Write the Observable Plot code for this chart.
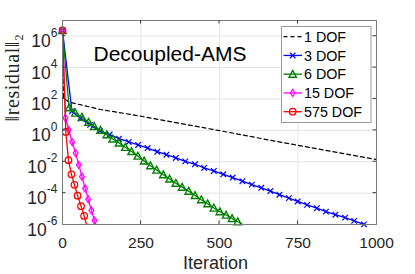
<!DOCTYPE html>
<html><head><meta charset="utf-8">
<script src="https://cdn.jsdelivr.net/npm/d3@7"></script>
<script src="https://cdn.jsdelivr.net/npm/@observablehq/plot@0.6"></script>
<style>
body{margin:0;background:#fff;}
#chart{width:415px;height:274px;}
</style></head><body><div id="chart"></div>
<script>
// ---- data ----
const seriesNames = ["1 DOF", "3 DOF", "6 DOF", "15 DOF", "575 DOF"];
const seriesColors = ["#000000", "#0000ff", "#008000", "#ff00ff", "#ff0000"];

const dof1Iter = [0, 3, 10, 21, 121, 248, 535, 662, 1000];
const dof1Res  = [2.3e6, 112, 89, 63, 21.4, 8.1, 0.71, 0.232, 0.0138];

const dof3Iter = [0, 30, 58, 88, 119, 150, 180, 211, 241, 271, 302, 331, 361, 391, 422, 451, 482, 512, 542, 573, 603, 633, 662, 691, 721, 749, 779, 810, 839, 869, 900, 929, 960];
const dof3Res  = [2.3e6, 16.6, 5.6, 2.24, 0.89, 0.54, 0.295, 0.182, 0.117, 0.074, 0.0437, 0.0282, 0.0174, 0.0105, 0.0069, 0.0040, 0.0026, 0.00158, 0.00098, 0.000575, 0.000347, 0.000219, 0.000135, 7.9e-5, 4.8e-5, 2.95e-5, 1.78e-5, 1.10e-5, 6.6e-6, 4.2e-6, 2.75e-6, 1.7e-6, 1.02e-6];

const dof6Iter = [0, 21, 41, 62, 83, 101, 121, 141, 160, 180, 200, 220, 240, 260, 280, 300, 321, 341, 361, 381, 402, 422, 442, 462, 482, 501, 521, 540, 558, 578];
const dof6Res  = [2.3e6, 27.5, 12.6, 6.9, 3.3, 1.78, 1.0, 0.525, 0.282, 0.158, 0.083, 0.0447, 0.0229, 0.0112, 0.0056, 0.00295, 0.00148, 7.9e-4, 4.3e-4, 2.4e-4, 1.32e-4, 7.1e-5, 3.8e-5, 2.1e-5, 1.12e-5, 6.6e-6, 4.0e-6, 2.45e-6, 1.51e-6, 8.9e-7];

const dof15Iter = [0, 9.5, 20, 31, 42, 52, 62, 72, 82, 92, 102, 107];
const dof15Res  = [2.3e6, 6.2, 1.05, 0.178, 0.0355, 0.0063, 0.00112, 2.0e-4, 4.0e-5, 7.9e-6, 1.78e-6, 8e-7];

const dof575Iter = [0, 10.5, 19, 28.5, 38, 48, 59, 69, 77];
const dof575Res  = [2.3e6, 0.79, 0.0126, 0.00158, 3.4e-4, 6.9e-5, 1.48e-5, 3.5e-6, 8.9e-7];

const xTicks = [0, 250, 500, 750, 1000];
const yTicks = [1e-6, 1e-4, 1e-2, 1e0, 1e2, 1e4, 1e6];
const titleText = "Decoupled-AMS";
const xLabel = "Iteration";
const yLabel = "‖residual‖₂";

// ---- marker shapes ----
const rOf = size => Math.sqrt(size / Math.PI);
const symTimes = {draw(c, s){const r = rOf(s); c.moveTo(-r,-r); c.lineTo(r,r); c.moveTo(-r,r); c.lineTo(r,-r);}};
const symTri = {draw(c, s){const r = rOf(s); c.moveTo(0,-r); c.lineTo(r*0.98, r*0.8); c.lineTo(-r*0.98, r*0.8); c.closePath();}};
const symDiamond = {draw(c, s){const r = rOf(s); c.moveTo(0,-r); c.lineTo(r*0.68,0); c.lineTo(0,r); c.lineTo(-r*0.68,0); c.closePath();}};
const symCircle = {draw(c, s){const r = rOf(s); c.moveTo(r,0); c.arc(0,0,r,0,2*Math.PI); c.closePath();}};

const seriesList = [
  {it: dof1Iter, v: dof1Res, sym: null, r: 0, dash: "4,3", lw: 1.2, mw: 1},
  {it: dof3Iter, v: dof3Res, sym: symTimes, r: 2.8, dash: null, lw: 1.3, mw: 1.2},
  {it: dof6Iter, v: dof6Res, sym: symTri, r: 3.8, dash: null, lw: 1.3, mw: 1.4},
  {it: dof15Iter, v: dof15Res, sym: symDiamond, r: 3.6, dash: null, lw: 1.3, mw: 1.2},
  {it: dof575Iter, v: dof575Res, sym: symCircle, r: 3.3, dash: null, lw: 1.3, mw: 1.2}
].map((s, i) => ({...s, name: seriesNames[i], color: seriesColors[i],
  rows: s.it.map((x, j) => ({x, y: s.v[j]}))}));

const font = "'Liberation Sans', Arial, Helvetica, sans-serif";

const marks = [
  Plot.gridX(xTicks.slice(1, -1), {stroke: "#e4e4e4", strokeOpacity: 1}),
  Plot.gridY(yTicks.slice(1), {stroke: "#e4e4e4", strokeOpacity: 1}),
  Plot.text([titleText], {frameAnchor: "top-left", textAnchor: "start", lineAnchor: "bottom", dx: 31, dy: 40, fontSize: 21, fill: "#000"})
];
for (const s of seriesList) {
  marks.push(Plot.line(s.rows, {x: "x", y: "y", stroke: s.color, strokeWidth: s.lw, strokeDasharray: s.dash, clip: true}));
  if (s.sym) marks.push(Plot.dot(s.rows.filter(d => d.y >= 1e-6), {x: "x", y: "y", symbol: s.sym, r: s.r, stroke: s.color, fill: "none", strokeWidth: s.mw}));
}
marks.push(
  Plot.frame({stroke: "#7a7a7a"}),
  Plot.axisX({ticks: xTicks, tickSize: 0, tickPadding: 12, fontSize: 15.5, label: null, tickFormat: d => String(d)}),
  Plot.axisY({ticks: yTicks, tickSize: 0, tickPadding: 5, fontSize: 17.5, label: null,
    tickFormat: d => String(Math.round(Math.log10(d)))}),
  Plot.text([xLabel], {frameAnchor: "bottom", lineAnchor: "bottom", dy: 44, dx: -4, fontSize: 18, fill: "#262626"}),
  Plot.text([yLabel], {frameAnchor: "left", rotate: -90, lineAnchor: "bottom", dx: -44, dy: -1, fontSize: 20, fontFamily: "'Liberation Serif', 'DejaVu Serif', serif", fill: "#262626"})
);

const chart = Plot.plot({
  width: 415, height: 274,
  marginLeft: 62, marginRight: 39, marginTop: 20, marginBottom: 50,
  x: {domain: [0, 1000]},
  y: {type: "log", domain: [1e-6, 1e7]},
  style: {fontFamily: font, color: "#262626", background: "#fff", overflow: "visible"},
  marks
});
document.getElementById("chart").appendChild(chart);

// ---- post-process: superscript exponents, inward ticks, legend ----
const svg = d3.select(chart);
svg.selectAll('g[aria-label="y-axis tick label"] text').each(function () {
  const t = d3.select(this);
  const e = t.text();
  t.text(null).attr("y", null).attr("dy", null);
  t.append("tspan").attr("dy", 11).text("10");
  t.append("tspan").attr("dy", -10.7).attr("font-size", 12).text(e);
});
svg.selectAll('g[aria-label="text"] text').filter(function(){ return d3.select(this).text() === yLabel; })
  .attr("letter-spacing", "0.6px");

const sx = chart.scale("x"), sy = chart.scale("y");
const L = 62, R = 415 - 39, T = 20, B = 274 - 50, tl = 3.5;
const tg = svg.append("g").attr("stroke", "#404040").attr("stroke-width", 1);
xTicks.slice(1, -1).forEach(v => {
  const x = sx.apply(v);
  tg.append("line").attr("x1", x).attr("x2", x).attr("y1", B).attr("y2", B - tl);
  tg.append("line").attr("x1", x).attr("x2", x).attr("y1", T).attr("y2", T + tl);
});
yTicks.slice(1).forEach(v => {
  const y = sy.apply(v);
  tg.append("line").attr("x1", L).attr("x2", L + tl).attr("y1", y).attr("y2", y);
  tg.append("line").attr("x1", R).attr("x2", R - tl).attr("y1", y).attr("y2", y);
});

const lg = svg.append("g").attr("text-anchor", "start");
lg.append("rect").attr("x", 281.5).attr("y", 26.5).attr("width", 89.5).attr("height", 96)
  .attr("fill", "#fff").attr("stroke", "#9a9a9a");
seriesList.forEach((s, i) => {
  const y = 36.7 + i * 18.75;
  lg.append("line").attr("x1", 283.5).attr("x2", 302).attr("y1", y).attr("y2", y)
    .attr("stroke", s.color).attr("stroke-width", s.lw).attr("stroke-dasharray", s.dash);
  if (s.sym) lg.append("path").attr("d", d3.symbol(s.sym, Math.PI * s.r * s.r)())
    .attr("transform", `translate(292.7,${y})`).attr("fill", "none").attr("stroke", s.color).attr("stroke-width", s.mw);
  lg.append("text").attr("x", 304).attr("y", y).attr("dy", "0.36em").attr("font-size", 14.3)
    .attr("text-anchor", "start").attr("fill", "#000").text(s.name);
});
</script></body></html>
